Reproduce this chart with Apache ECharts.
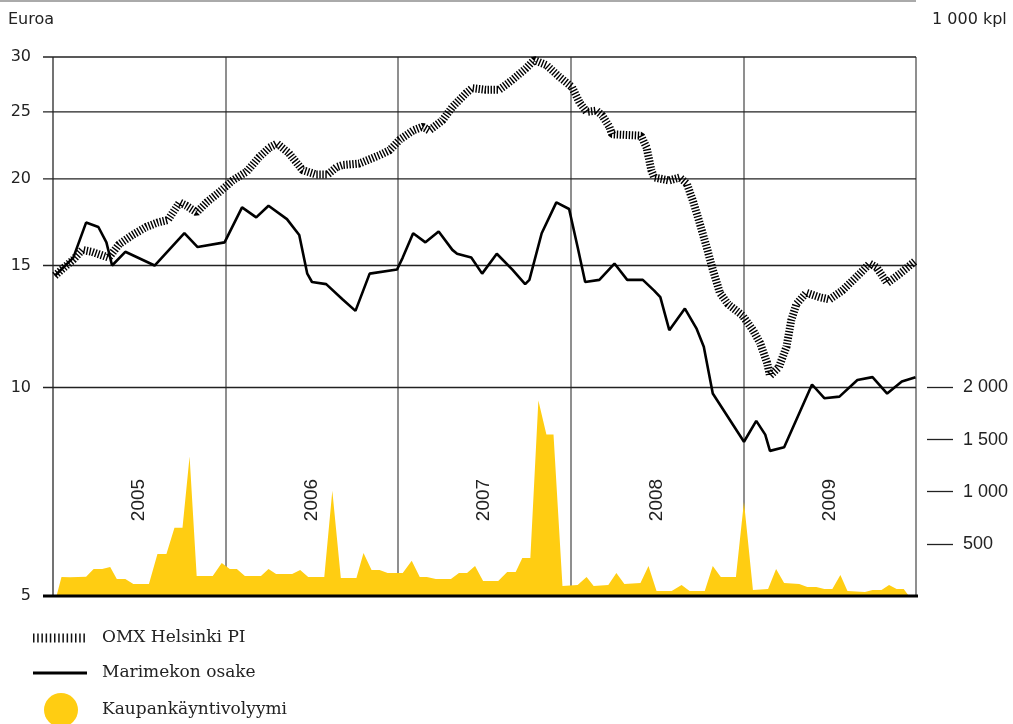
<!DOCTYPE html>
<html><head><meta charset="utf-8">
<script src="https://cdn.jsdelivr.net/npm/echarts@6/dist/echarts.min.js"></script>
<style>html,body{margin:0;padding:0;background:#fff}#c{width:1013px;height:724px}</style>
</head><body><div id="c"></div>
<script>
// ---- data ----
const omxDates = ['2005-01-05','2005-02-13','2005-03-04','2005-03-24','2005-04-29','2005-05-21','2005-06-18','2005-07-17','2005-08-10','2005-09-01','2005-09-26','2005-10-10','2005-11-01','2005-11-22','2005-12-19',
'2006-01-16','2006-02-15','2006-03-13','2006-04-04','2006-04-20','2006-05-15','2006-06-13','2006-07-12','2006-08-05','2006-08-24','2006-09-06','2006-10-11','2006-11-23','2006-12-14',
'2007-01-05','2007-02-02','2007-02-22','2007-03-08','2007-04-05','2007-04-26','2007-05-25','2007-06-07','2007-07-06','2007-08-03','2007-08-31','2007-09-29','2007-10-16','2007-11-11','2007-12-08',
'2008-01-04','2008-01-20','2008-02-04','2008-02-25','2008-03-08','2008-03-23','2008-03-29','2008-05-29','2008-06-10','2008-06-20','2008-06-26','2008-07-28','2008-08-19','2008-09-03','2008-09-16','2008-09-30','2008-10-15','2008-10-28','2008-11-12','2008-11-29','2008-12-30',
'2009-01-21','2009-02-05','2009-02-20','2009-02-26','2009-03-17','2009-04-02','2009-04-12','2009-04-23','2009-05-14','2009-06-11','2009-07-02','2009-07-29','2009-09-04','2009-09-25','2009-10-10','2009-11-01','2009-11-28','2009-12-29'];
const omxValues = [14.5,15.3,15.8,15.7,15.4,16.1,16.6,17.05,17.3,17.45,18.5,18.3,17.9,18.5,19.15,
19.9,20.5,21.5,22.2,22.5,21.8,20.6,20.3,20.3,20.8,20.95,21.05,21.65,22.0,
22.8,23.5,23.8,23.5,24.3,25.4,26.6,27.05,26.9,26.9,27.8,28.9,29.7,29.2,28.1,
27.15,25.8,25.0,25.1,24.7,23.8,23.2,23.1,22.2,20.6,20.1,19.9,20.1,19.7,18.6,17.3,15.95,14.8,13.7,13.2,12.7,
12.1,11.6,10.85,10.4,10.7,11.45,12.5,13.2,13.7,13.5,13.4,13.8,14.6,15.1,14.9,14.15,14.6,15.2];

const mariDates = ['2005-01-05','2005-02-13','2005-03-12','2005-04-07','2005-04-24','2005-05-06','2005-06-03','2005-08-04','2005-10-06','2005-11-03','2005-12-30',
'2006-02-05','2006-03-07','2006-04-02','2006-05-11','2006-06-06','2006-06-23','2006-07-03','2006-08-02','2006-09-06','2006-10-03','2006-11-02','2006-12-30',
'2007-01-11','2007-02-02','2007-02-28','2007-03-28','2007-04-26','2007-05-06','2007-06-05','2007-06-28','2007-07-29','2007-08-31','2007-09-27','2007-10-06','2007-11-01','2007-12-02','2007-12-29',
'2008-01-16','2008-02-01','2008-03-02','2008-04-03','2008-04-30','2008-06-02','2008-06-26','2008-07-09','2008-07-28','2008-08-30','2008-09-24','2008-10-09','2008-10-28',
'2009-01-02','2009-01-28','2009-02-16','2009-02-26','2009-03-28','2009-05-26','2009-06-21','2009-07-23','2009-08-30','2009-10-01','2009-11-01','2009-12-02','2009-12-31'];
const mariValues = [14.5,15.4,17.3,17.05,16.2,15.0,15.7,15.0,16.7,15.95,16.2,
18.2,17.6,18.3,17.5,16.6,14.6,14.2,14.1,13.4,12.9,14.6,14.8,
15.4,16.7,16.2,16.8,15.8,15.6,15.4,14.6,15.6,14.8,14.1,14.3,16.7,18.5,18.1,
15.95,14.2,14.3,15.1,14.3,14.3,13.8,13.5,12.1,13.0,12.15,11.45,9.8,
8.35,8.95,8.55,8.1,8.2,10.1,9.65,9.7,10.25,10.35,9.8,10.2,10.35];

// trading volume, 1 000 shares
const volDates = ['2005-01-09','2005-01-19','2005-02-06','2005-03-12','2005-03-28','2005-04-15','2005-05-02','2005-05-16','2005-06-03','2005-06-20','2005-07-23','2005-08-10','2005-08-29','2005-09-15','2005-10-02','2005-10-17','2005-11-01','2005-12-05','2005-12-24',
'2006-01-10','2006-01-25','2006-02-11','2006-03-17','2006-04-02','2006-04-18','2006-05-22','2006-06-08','2006-06-25','2006-07-29','2006-08-15','2006-09-02','2006-10-05','2006-10-20','2006-11-06','2006-11-23','2006-12-10',
'2007-01-11','2007-01-30','2007-02-16','2007-03-03','2007-03-22','2007-04-23','2007-05-10','2007-05-27','2007-06-13','2007-06-30','2007-08-01','2007-08-20','2007-09-07','2007-09-21','2007-10-08','2007-10-25','2007-11-11','2007-11-26','2007-12-15',
'2008-01-16','2008-02-04','2008-02-19','2008-03-21','2008-04-07','2008-04-24','2008-05-28','2008-06-14','2008-07-01','2008-08-02','2008-08-23','2008-09-09','2008-10-11','2008-10-28','2008-11-14','2008-12-16',
'2009-01-02','2009-01-21','2009-02-22','2009-03-11','2009-03-28','2009-04-29','2009-05-16','2009-06-04','2009-06-21','2009-07-08','2009-07-25','2009-08-09','2009-09-15','2009-10-01','2009-10-20','2009-11-05','2009-11-21','2009-12-06','2009-12-17'];
const volValues = [10,183,180,185,260,260,279,163,163,115,115,404,404,654,654,1337,192,192,317,
260,260,192,192,260,212,212,250,183,183,1010,173,173,413,250,250,221,
221,337,183,183,163,163,221,221,288,144,144,231,231,365,365,1875,1548,1548,96,
106,183,96,106,221,115,125,288,48,48,106,48,48,288,183,183,
904,58,67,260,125,115,87,87,67,67,202,48,38,58,58,106,67,67,0];

const years = ['2005','2006','2007','2008','2009'];
const leftTicks = [5,10,15,20,25,30];
const rightTicks = [500,1000,1500,2000];
const seriesNames = ['OMX Helsinki PI','Marimekon osake','Kaupankäyntivolyymi'];

// ---- chart ----
const YELLOW = '#FFCD12';
const DAY = 86400000;
const pairs = (d, v) => d.map((x, i) => [x, v[i]]);
const fmtThousands = v => String(v).replace(/\B(?=(\d{3})+(?!\d))/g, ' ');

const chart = echarts.init(document.getElementById('c'));
chart.setOption({
  animation: false,
  grid: {left: 53, right: 97, top: 57, bottom: 128},
  xAxis: {
    type: 'time', min: '2005-01-01', max: '2010-01-01',
    minInterval: 365 * DAY, maxInterval: 366 * DAY,
    axisLine: {show: false}, axisTick: {show: false}, axisLabel: {show: false},
    splitLine: {show: true, lineStyle: {color: '#6a6a6a', width: 1.5}}
  },
  yAxis: [
    {type: 'log', min: 5, max: 30,
     axisLine: {show: false}, axisTick: {show: false}, axisLabel: {show: false}, splitLine: {show: false}},
    {type: 'value', position: 'right', offset: 11, min: 0, max: 5170,
     axisLine: {show: false}, splitLine: {show: false},
     axisTick: {show: true, length: 26, customValues: rightTicks, lineStyle: {color: '#222', width: 1.3}},
     axisLabel: {show: true, customValues: rightTicks, margin: 36, formatter: v => fmtThousands(v),
       fontFamily: 'Liberation Sans', fontSize: 18, color: '#222'}}
  ],
  series: [
    {name: seriesNames[2], type: 'line', yAxisIndex: 1, data: pairs(volDates, volValues), symbol: 'none',
     lineStyle: {width: 0, color: YELLOW}, areaStyle: {color: YELLOW, opacity: 1}, z: 2, silent: true},
    {name: seriesNames[0], type: 'line', yAxisIndex: 0, data: pairs(omxDates, omxValues), symbol: 'none',
     lineStyle: {color: '#000', width: 8, type: [1.4, 1.6], cap: 'butt'}, z: 3, silent: true},
    {name: seriesNames[1], type: 'line', yAxisIndex: 0, data: pairs(mariDates, mariValues), symbol: 'none',
     lineStyle: {color: '#000', width: 2.6}, z: 4, silent: true}
  ]
});

// ---- axis grid / labels positioned through the chart's own scales ----
const yPix = v => chart.convertToPixel({yAxisIndex: 0}, v);
const xPix = d => chart.convertToPixel({xAxisIndex: 0}, echarts.time.parse(d).getTime());
const gridRight = xPix('2010-01-01');
const gridLeft = xPix('2005-01-01');
const els = [];
els.push({type: 'line', shape: {x1: 0, y1: 1, x2: gridRight, y2: 1}, style: {stroke: '#aaa', lineWidth: 2}, z: 1});
leftTicks.forEach(v => {
  const y = yPix(v);
  if (v === leftTicks[0]) {
    els.push({type: 'line', shape: {x1: gridLeft - 10, y1: y, x2: gridRight + 2, y2: y}, style: {stroke: '#000', lineWidth: 3}, z: 20});
  } else {
    els.push({type: 'line', shape: {x1: gridLeft - 10, y1: y, x2: gridRight, y2: y}, style: {stroke: '#222', lineWidth: 1.3}, z: 1});
  }
  els.push({type: 'text', x: gridLeft - 22, y: y, style: {text: String(v), align: 'right', verticalAlign: 'middle',
    font: '16px "DejaVu Sans"', fill: '#222'}, z: 20});
});
years.forEach(yr => {
  els.push({type: 'text', x: xPix(yr + '-07-02'), y: 500, rotation: Math.PI / 2,
    style: {text: yr, align: 'center', verticalAlign: 'middle', font: '19px "Liberation Sans"', fill: '#222'}, z: 20});
});
els.push({type: 'text', x: 8, y: 20, style: {text: 'Euroa', verticalAlign: 'middle', font: '16px "DejaVu Sans"', fill: '#222'}, z: 20});
els.push({type: 'text', x: 932, y: 20, style: {text: '1 000 kpl', verticalAlign: 'middle', font: '16px "DejaVu Sans"', fill: '#222'}, z: 20});
// legend
const legY = [638, 673, 710];
els.push({type: 'line', shape: {x1: 33, y1: legY[0], x2: 87, y2: legY[0]}, style: {stroke: '#111', lineWidth: 9, lineDash: [1.5, 2.7], lineCap: 'butt'}, z: 20});
els.push({type: 'line', shape: {x1: 33, y1: legY[1], x2: 87, y2: legY[1]}, style: {stroke: '#000', lineWidth: 2.8}, z: 20});
els.push({type: 'circle', shape: {cx: 61, cy: legY[2], r: 17}, style: {fill: YELLOW}, z: 20});
seriesNames.forEach((n, i) => {
  els.push({type: 'text', x: 102, y: legY[i], style: {text: n, verticalAlign: 'middle', font: '17px "DejaVu Serif"', fill: '#222'}, z: 20});
});
chart.setOption({graphic: {elements: els}});
</script>
</body></html>
